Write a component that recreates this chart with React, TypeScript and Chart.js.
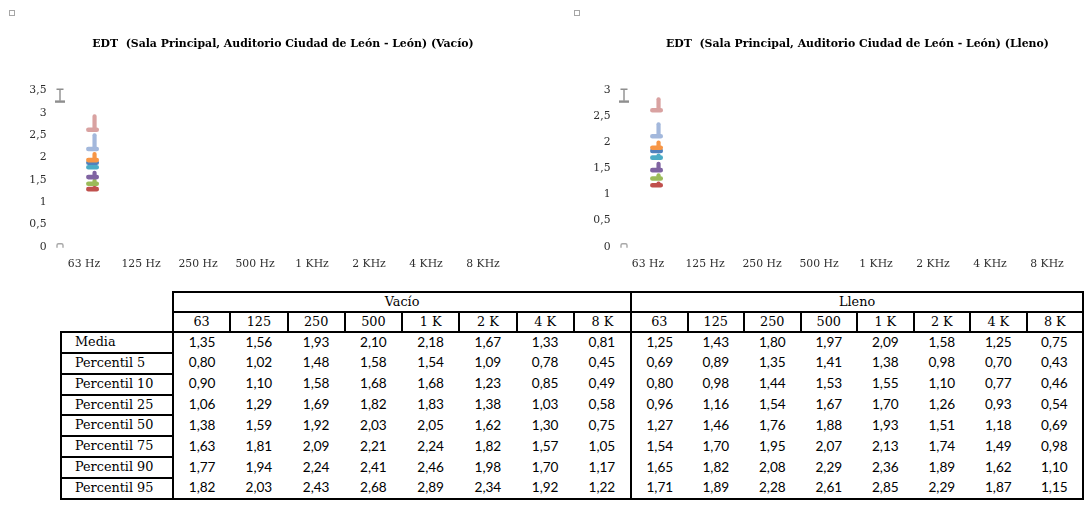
import React, { useEffect, useRef } from "react";
import { Chart, registerables } from "chart.js";

Chart.register(...registerables);

// ---------- data ----------
const categories = ["63 Hz", "125 Hz", "250 Hz", "500 Hz", "1 KHz", "2 KHz", "4 KHz", "8 KHz"];
const titleVacio = "EDT  (Sala Principal, Auditorio Ciudad de León - León) (Vacío)";
const titleLleno = "EDT  (Sala Principal, Auditorio Ciudad de León - León) (Lleno)";

// marks drawn at 63 Hz: lower end (cap) and upper end (stem) of each series
const vacioMarkBottoms = [1.29, 1.41, 1.56, 1.78, 1.88, 1.94, 2.19, 2.62];
const vacioMarkTops = [1.36, 1.52, 1.7, 1.83, 1.9, 2.12, 2.54, 2.97];
const llenoMarkBottoms = [1.18, 1.31, 1.47, 1.71, 1.84, 1.9, 2.12, 2.62];
const llenoMarkTops = [1.25, 1.41, 1.63, 1.79, 1.86, 2.04, 2.39, 2.87];
const vacioYMax = 3.5;
const llenoYMax = 3;
const yStep = 0.5;

// table
const blockVacio = "Vacío";
const blockLleno = "Lleno";
const freqHeaders = ["63", "125", "250", "500", "1 K", "2 K", "4 K", "8 K"];
const rowLabels = ["Media", "Percentil 5", "Percentil 10", "Percentil 25", "Percentil 50", "Percentil 75", "Percentil 90", "Percentil 95"];

const vacioMedia = [1.35, 1.56, 1.93, 2.1, 2.18, 1.67, 1.33, 0.81];
const vacioP5 = [0.8, 1.02, 1.48, 1.58, 1.54, 1.09, 0.78, 0.45];
const vacioP10 = [0.9, 1.1, 1.58, 1.68, 1.68, 1.23, 0.85, 0.49];
const vacioP25 = [1.06, 1.29, 1.69, 1.82, 1.83, 1.38, 1.03, 0.58];
const vacioP50 = [1.38, 1.59, 1.92, 2.03, 2.05, 1.62, 1.3, 0.75];
const vacioP75 = [1.63, 1.81, 2.09, 2.21, 2.24, 1.82, 1.57, 1.05];
const vacioP90 = [1.77, 1.94, 2.24, 2.41, 2.46, 1.98, 1.7, 1.17];
const vacioP95 = [1.82, 2.03, 2.43, 2.68, 2.89, 2.34, 1.92, 1.22];

const llenoMedia = [1.25, 1.43, 1.8, 1.97, 2.09, 1.58, 1.25, 0.75];
const llenoP5 = [0.69, 0.89, 1.35, 1.41, 1.38, 0.98, 0.7, 0.43];
const llenoP10 = [0.8, 0.98, 1.44, 1.53, 1.55, 1.1, 0.77, 0.46];
const llenoP25 = [0.96, 1.16, 1.54, 1.67, 1.7, 1.26, 0.93, 0.54];
const llenoP50 = [1.27, 1.46, 1.76, 1.88, 1.93, 1.51, 1.18, 0.69];
const llenoP75 = [1.54, 1.7, 1.95, 2.07, 2.13, 1.74, 1.49, 0.98];
const llenoP90 = [1.65, 1.82, 2.08, 2.29, 2.36, 1.89, 1.62, 1.1];
const llenoP95 = [1.71, 1.89, 2.28, 2.61, 2.85, 2.29, 1.87, 1.15];

const vacioRows = [vacioMedia, vacioP5, vacioP10, vacioP25, vacioP50, vacioP75, vacioP90, vacioP95];
const llenoRows = [llenoMedia, llenoP5, llenoP10, llenoP25, llenoP50, llenoP75, llenoP90, llenoP95];

// ---------- style ----------
const seriesColors = ["#C0504D", "#9BBB59", "#8064A2", "#4BACC6", "#4F81BD", "#F79646", "#A3B8DC", "#D9A2A1"];
const CANVAS_H = 280;
const PLOT_TOP = 90.5;
const PLOT_BOTTOM = 246.7;
const CAP_PX = 4.6;
const axisFont = { family: "'DejaVu Serif', serif", size: 10.8 };
const axisColor = "#2e2e2e";

const fmt = (v: number) => v.toFixed(2).replace(".", ",");

const decorPlugin = {
  id: "decor",
  afterDraw(chart: any) {
    const { ctx, chartArea } = chart;
    const x = chartArea.left + 4.5;
    const top = chartArea.top - 1.2;
    ctx.save();
    ctx.strokeStyle = "#8e8e8e";
    ctx.lineCap = "butt";
    ctx.lineWidth = 1.4;
    ctx.beginPath();
    ctx.moveTo(x - 3.5, top);
    ctx.lineTo(x + 3.5, top);
    ctx.moveTo(x, top);
    ctx.lineTo(x, top + 11.5);
    ctx.stroke();
    ctx.lineWidth = 2.4;
    ctx.beginPath();
    ctx.moveTo(x - 5, top + 12.3);
    ctx.lineTo(x + 5, top + 12.3);
    ctx.stroke();
    // small arch at the origin
    ctx.strokeStyle = "#a8a8a8";
    ctx.lineWidth = 1.4;
    const b = chartArea.bottom;
    ctx.beginPath();
    ctx.moveTo(x - 3, b + 1);
    ctx.lineTo(x - 3, b - 1.5);
    ctx.quadraticCurveTo(x - 3, b - 3, x - 1.5, b - 3);
    ctx.lineTo(x + 1.5, b - 3);
    ctx.quadraticCurveTo(x + 3, b - 3, x + 3, b - 1.5);
    ctx.lineTo(x + 3, b + 1);
    ctx.stroke();
    ctx.restore();
  },
};

type ChartProps = {
  bottoms: number[];
  tops: number[];
  yMax: number;
  width: number;
  plotLeft: number;
  plotRight: number;
};

function EdtChart({ bottoms, tops, yMax, width, plotLeft, plotRight }: ChartProps) {
  const ref = useRef<HTMLCanvasElement>(null);
  useEffect(() => {
    if (!ref.current) return;
    const capHalf = ((CAP_PX / 2) * yMax) / (PLOT_BOTTOM - PLOT_TOP);
    const n = bottoms.length;
    const datasets: any[] = [
      {
        label: "slot",
        data: categories.map(() => null),
        stack: "pad",
        order: -100,
      },
    ];
    bottoms.forEach((b, s) => {
      const t = tops[s];
      datasets.push({
        label: "stem" + s,
        data: categories.map((_, i) => (i === 0 ? [b, t] : null)),
        stack: "marks",
        backgroundColor: seriesColors[s],
        categoryPercentage: 0.74,
        barPercentage: 1,
        maxBarThickness: 4.2,
        borderWidth: 0,
        borderSkipped: false,
        borderRadius: 2,
        order: n - s,
      });
      datasets.push({
        label: "cap" + s,
        data: categories.map((_, i) => (i === 0 ? [b - capHalf, b + capHalf] : null)),
        stack: "marks",
        backgroundColor: seriesColors[s],
        categoryPercentage: 0.6,
        barPercentage: 1,
        maxBarThickness: 13,
        borderWidth: 0,
        borderSkipped: false,
        borderRadius: 2.3,
        order: n - s,
      });
    });

    const chart = new Chart(ref.current, {
      type: "bar",
      data: { labels: categories, datasets },
      plugins: [decorPlugin],
      options: {
        responsive: false,
        animation: false,
        layout: { padding: { top: PLOT_TOP, left: 0, right: width - plotRight, bottom: 0 } },
        plugins: {
          legend: { display: false },
          tooltip: { enabled: false },
          title: { display: false },
        },
        scales: {
          x: {
            type: "category",
            stacked: true,
            offset: true,
            grid: { display: false, drawTicks: false },
            border: { display: false },
            ticks: { font: axisFont, color: axisColor, padding: 11.5, maxRotation: 0, autoSkip: false },
            afterFit: (s: any) => {
              s.height = CANVAS_H - PLOT_BOTTOM;
            },
          },
          y: {
            stacked: false,
            min: 0,
            max: yMax,
            grid: { display: false, drawTicks: false },
            border: { display: false },
            ticks: {
              stepSize: yStep,
              padding: 9,
              font: axisFont,
              color: axisColor,
              callback: (v: any) => String(v).replace(".", ","),
            },
            afterFit: (s: any) => {
              s.width = plotLeft;
            },
          },
        },
      } as any,
    });
    return () => chart.destroy();
  }, [bottoms, tops, yMax, width, plotLeft, plotRight]);
  return <canvas ref={ref} width={width} height={CANVAS_H} style={{ display: "block" }} />;
}

const B = "2px solid #000";
const serifCell: React.CSSProperties = {
  fontFamily: "'DejaVu Serif', serif",
  fontSize: 12.8,
  textAlign: "center",
  padding: 0,
  lineHeight: 1,
  color: "#000",
};
const numCell: React.CSSProperties = {
  fontFamily: "Lato, sans-serif",
  fontSize: 13.6,
  textAlign: "center",
  padding: 0,
  lineHeight: 1,
  color: "#000",
};

function DataTable() {
  const colW1 = 57.25;
  const colW2 = 56.5;
  return (
    <table
      style={{
        position: "absolute",
        left: 60,
        top: 291,
        borderCollapse: "collapse",
        tableLayout: "fixed",
        width: 112 + 8 * colW1 + 8 * colW2,
      }}
    >
      <colgroup>
        <col style={{ width: 112 }} />
        {freqHeaders.map((h) => (
          <col key={"a" + h} style={{ width: colW1 }} />
        ))}
        {freqHeaders.map((h) => (
          <col key={"b" + h} style={{ width: colW2 }} />
        ))}
      </colgroup>
      <tbody>
        <tr style={{ height: 20 }}>
          <td style={{ padding: 0 }} />
          <td colSpan={8} style={{ ...serifCell, border: B }}>
            {blockVacio}
          </td>
          <td colSpan={8} style={{ ...serifCell, border: B }}>
            {blockLleno}
          </td>
        </tr>
        <tr style={{ height: 20 }}>
          <td style={{ padding: 0 }} />
          {freqHeaders.map((h) => (
            <td key={"ha" + h} style={{ ...serifCell, border: B }}>
              {h}
            </td>
          ))}
          {freqHeaders.map((h) => (
            <td key={"hb" + h} style={{ ...serifCell, border: B }}>
              {h}
            </td>
          ))}
        </tr>
        {rowLabels.map((label, r) => {
          const last = r === rowLabels.length - 1;
          return (
            <tr key={label} style={{ height: 20.85 }}>
              <td style={{ ...serifCell, textAlign: "left", paddingLeft: 13, border: B }}>{label}</td>
              {vacioRows[r].map((v, i) => (
                <td
                  key={"v" + i}
                  style={{
                    ...numCell,
                    borderLeft: i === 0 ? B : undefined,
                    borderBottom: last ? B : undefined,
                  }}
                >
                  {fmt(v)}
                </td>
              ))}
              {llenoRows[r].map((v, i) => (
                <td
                  key={"l" + i}
                  style={{
                    ...numCell,
                    borderLeft: i === 0 ? B : undefined,
                    borderRight: i === 7 ? B : undefined,
                    borderBottom: last ? B : undefined,
                  }}
                >
                  {fmt(v)}
                </td>
              ))}
            </tr>
          );
        })}
      </tbody>
    </table>
  );
}

const titleStyle: React.CSSProperties = {
  position: "absolute",
  width: 600,
  textAlign: "center",
  fontFamily: "'DejaVu Serif', serif",
  fontWeight: "bold",
  fontSize: 10.9,
  lineHeight: "14px",
  top: 37,
  color: "#000",
  whiteSpace: "pre",
};

const handleStyle: React.CSSProperties = {
  position: "absolute",
  width: 4,
  height: 4,
  border: "1.5px solid #a6a6a6",
  top: 10,
};

export default function App() {
  return (
    <div
      style={{
        position: "absolute",
        left: 0,
        top: 0,
        width: 1091,
        height: 511,
        background: "#fff",
        overflow: "hidden",
      }}
    >
      <div style={{ ...handleStyle, left: 9 }} />
      <div style={{ ...handleStyle, left: 574 }} />
      <div style={{ position: "absolute", left: 0, top: 0 }}>
        <EdtChart bottoms={vacioMarkBottoms} tops={vacioMarkTops} yMax={vacioYMax} width={545} plotLeft={55.5} plotRight={511.5} />
      </div>
      <div style={{ position: "absolute", left: 545, top: 0 }}>
        <EdtChart bottoms={llenoMarkBottoms} tops={llenoMarkTops} yMax={llenoYMax} width={546} plotLeft={74.5} plotRight={530.5} />
      </div>
      <div style={{ ...titleStyle, left: 283 - 300 }}>{titleVacio}</div>
      <div style={{ ...titleStyle, left: 857.5 - 300 }}>{titleLleno}</div>
      <DataTable />
    </div>
  );
}
